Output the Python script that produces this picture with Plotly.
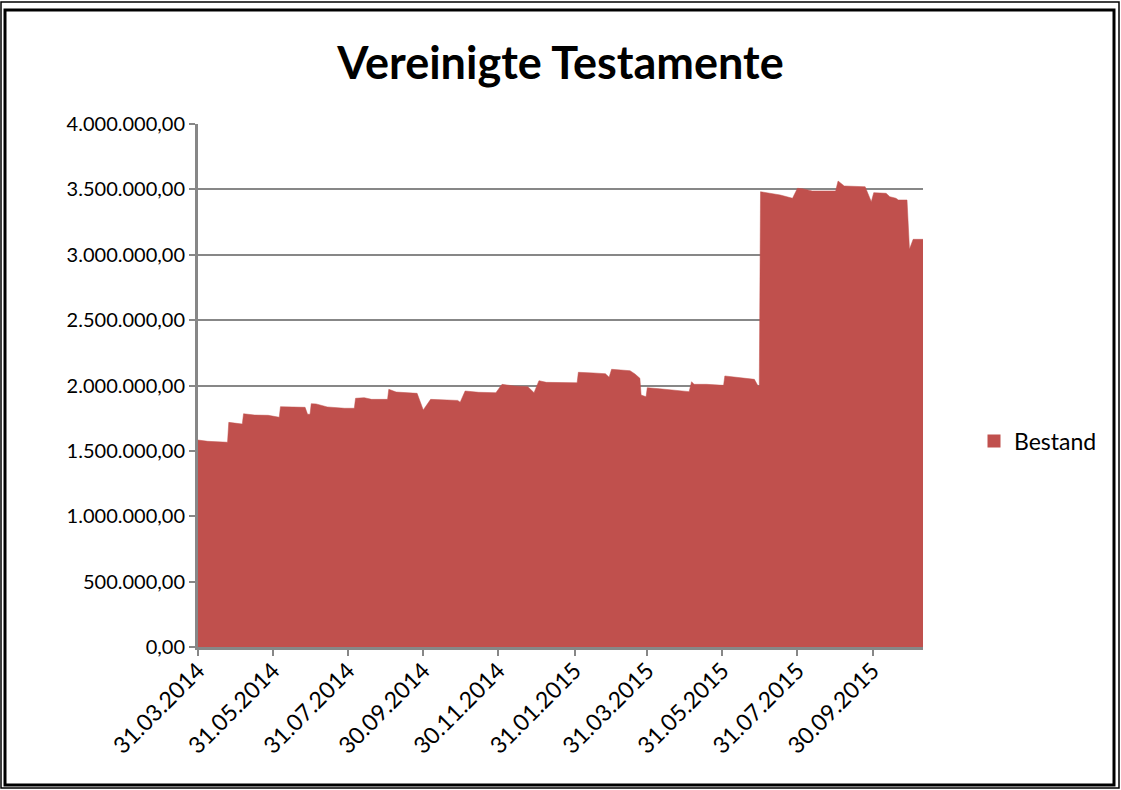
import plotly.graph_objects as go

dates = [
    "2014-03-31", "2014-04-08", "2014-04-24", "2014-04-25", "2014-05-06", "2014-05-07",
    "2014-05-16", "2014-05-27", "2014-06-05", "2014-06-06", "2014-06-26", "2014-06-28",
    "2014-06-30", "2014-07-01", "2014-07-05", "2014-07-14", "2014-07-28", "2014-08-05",
    "2014-08-06", "2014-08-13", "2014-08-19", "2014-09-01", "2014-09-02", "2014-09-08",
    "2014-09-25", "2014-09-30", "2014-10-06", "2014-10-17", "2014-10-28", "2014-10-30",
    "2014-11-03", "2014-11-14", "2014-11-28", "2014-12-03", "2014-12-13", "2014-12-24",
    "2014-12-29", "2015-01-02", "2015-01-08", "2015-02-02", "2015-02-03", "2015-02-15",
    "2015-02-25", "2015-02-28", "2015-03-02", "2015-03-17", "2015-03-21", "2015-03-25",
    "2015-03-26", "2015-03-30", "2015-03-31", "2015-04-10", "2015-05-04", "2015-05-06",
    "2015-05-08", "2015-05-18", "2015-05-29", "2015-06-01", "2015-06-02", "2015-06-12",
    "2015-06-26", "2015-06-29", "2015-06-30", "2015-07-01", "2015-07-17", "2015-07-27",
    "2015-07-31", "2015-08-04", "2015-08-12", "2015-08-31", "2015-09-02", "2015-09-07",
    "2015-09-24", "2015-09-29", "2015-10-01", "2015-10-11", "2015-10-14", "2015-10-19",
    "2015-10-21", "2015-10-28", "2015-10-30", "2015-11-02", "2015-11-10",
]

bestand = [
    1583000, 1573000, 1566000, 1718000, 1705000, 1784000,
    1774000, 1772000, 1757000, 1838000, 1833000, 1780000,
    1780000, 1861000, 1859000, 1836000, 1826000, 1826000,
    1902000, 1907000, 1894000, 1894000, 1971000, 1950000,
    1940000, 1813000, 1894000, 1889000, 1886000, 1872000,
    1958000, 1948000, 1945000, 2009000, 1996000, 1991000,
    1945000, 2037000, 2024000, 2021000, 2101000, 2096000,
    2090000, 2063000, 2124000, 2113000, 2088000, 2055000,
    1927000, 1914000, 1983000, 1975000, 1953000, 2029000,
    2009000, 2009000, 2001000, 2001000, 2073000, 2063000,
    2047000, 1996000, 1996000, 3482000, 3457000, 3432000,
    3508000, 3505000, 3488000, 3488000, 3564000, 3526000,
    3520000, 3406000, 3475000, 3470000, 3444000, 3432000,
    3419000, 3419000, 3042000, 3118000, 3118000,
]

tick_dates = [
    "2014-03-31", "2014-05-31", "2014-07-31", "2014-09-30", "2014-11-30",
    "2015-01-31", "2015-03-31", "2015-05-31", "2015-07-31", "2015-09-30",
]
tick_labels = [
    "31.03.2014", "31.05.2014", "31.07.2014", "30.09.2014", "30.11.2014",
    "31.01.2015", "31.03.2015", "31.05.2015", "31.07.2015", "30.09.2015",
]

FONT = "Lato"
RED = "#C0504D"
GRID = "#878787"

fig = go.Figure()
fig.add_trace(go.Scatter(
    x=dates, y=bestand, name="Bestand", mode="lines",
    fill="tozeroy", fillcolor=RED, line=dict(color=RED, width=0.5),
    showlegend=False,
))
# legend-only entry with a square key, like the Excel legend
fig.add_trace(go.Scatter(
    x=[None], y=[None], name="Bestand", mode="markers",
    marker=dict(symbol="square", size=13, color=RED), showlegend=True,
))

fig.update_layout(
    width=1121, height=790,
    margin=dict(l=198, r=198, t=124, b=143),
    paper_bgcolor="white", plot_bgcolor="white",
    separators=",.",
    title=dict(text="<b>Vereinigte Testamente</b>", x=0.5, xanchor="center",
               y=1 - 63 / 790, yanchor="middle",
               font=dict(family=FONT, size=45, color="black")),
    font=dict(family=FONT, color="black"),
    showlegend=True,
    legend=dict(x=(974 - 198) / 725, xanchor="left", y=(647 - 441) / 523, yanchor="middle",
                font=dict(family=FONT, size=23, color="black"),
                bgcolor="rgba(0,0,0,0)", itemwidth=30),
    xaxis=dict(
        type="date", range=["2014-03-31", "2015-11-10"],
        tickvals=tick_dates, ticktext=tick_labels, tickangle=-45,
        ticks="outside", ticklen=6, tickwidth=2, tickcolor=GRID,
        showline=True, linecolor=GRID, linewidth=3,
        showgrid=False, zeroline=False, ticklabelstandoff=-8,
        tickfont=dict(family=FONT, size=23, color="black"),
    ),
    yaxis=dict(
        range=[0, 4000000], dtick=500000, tickformat=",.2f",
        ticks="outside", ticklen=6, tickwidth=2, tickcolor=GRID,
        showline=True, linecolor=GRID, linewidth=3,
        showgrid=True, gridcolor=GRID, gridwidth=2, zeroline=False,
        tickfont=dict(family=FONT, size=20, color="black"),
    ),
    shapes=[
        dict(type="rect", xref="paper", yref="paper",
             x0=(1 - 198) / 725, x1=(1119 - 198) / 725,
             y0=(647 - 788) / 523, y1=(647 - 2) / 523,
             line=dict(color="black", width=1.5), layer="above"),
        dict(type="rect", xref="paper", yref="paper",
             x0=(5 - 198) / 725, x1=(1114 - 198) / 725,
             y0=(647 - 785) / 523, y1=(647 - 10) / 523,
             line=dict(color="black", width=3), layer="above"),
    ],
)

fig.write_html("out.html", config={"displayModeBar": False},
               post_script="document.body.style.margin='0';document.body.style.overflow='hidden';")
